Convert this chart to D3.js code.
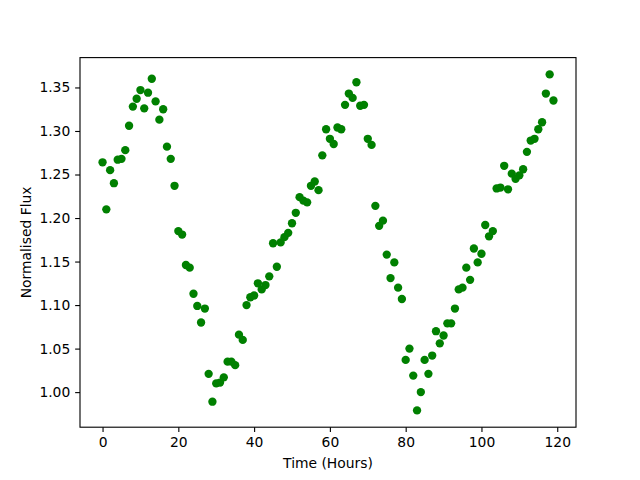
<!DOCTYPE html>
<html>
<head>
<meta charset="utf-8">
<script src="https://cdn.jsdelivr.net/npm/d3@7"></script>
<style>
  body { margin: 0; background: white; }
  text { font-family: "DejaVu Sans", sans-serif; }
</style>
</head>
<body>
<div id="container"></div>
<script>
// hourly samples, flux
const hours = d3.range(0, 120);
const flux = [
  1.264, 1.210, 1.255, 1.240, 1.267, 1.268, 1.278, 1.306, 1.328, 1.337,
  1.347, 1.326, 1.344, 1.360, 1.334, 1.313, 1.325, 1.282, 1.268, 1.237,
  1.185, 1.181, 1.146, 1.143, 1.113, 1.099, 1.080, 1.096, 1.021, 0.989,
  1.010, 1.011, 1.017, 1.035, 1.035, 1.031, 1.066, 1.060, 1.100, 1.109,
  1.111, 1.125, 1.118, 1.123, 1.133, 1.171, 1.144, 1.172, 1.178, 1.183,
  1.194, 1.206, 1.224, 1.220, 1.218, 1.237, 1.242, 1.232, 1.272, 1.302,
  1.291, 1.285, 1.304, 1.302, 1.330, 1.343, 1.338, 1.356, 1.329, 1.330,
  1.291, 1.284, 1.214, 1.191, 1.197, 1.158, 1.131, 1.149, 1.120, 1.107,
  1.037, 1.050, 1.019, 0.979, 1.000, 1.037, 1.021, 1.042, 1.070, 1.056,
  1.065, 1.079, 1.079, 1.096, 1.118, 1.120, 1.143, 1.129, 1.165, 1.149,
  1.159, 1.192, 1.179, 1.185, 1.234, 1.235, 1.260, 1.233, 1.251, 1.245,
  1.249, 1.256, 1.276, 1.289, 1.291, 1.302, 1.310, 1.343, 1.365, 1.335
];
const xTicks = [0, 20, 40, 60, 80, 100, 120];
const yTicks = [1.00, 1.05, 1.10, 1.15, 1.20, 1.25, 1.30, 1.35];

let w = 640;
let h = 480;
// matplotlib default subplot box
let axLeft = 80, axRight = 576, axTop = 57.6, axBottom = 427.2;
const pt = 100 / 72;

// 5% margins like matplotlib autoscale
function padded(ext) {
  let r = ext[1] - ext[0];
  return [ext[0] - 0.05 * r, ext[1] + 0.05 * r];
}

let xScale = d3.scaleLinear().domain(padded(d3.extent(hours))).range([axLeft, axRight]);
let yScale = d3.scaleLinear().domain(padded(d3.extent(flux))).range([axBottom, axTop]);

let viz = d3.select("#container").append("svg")
    .attr("width", w)
    .attr("height", h)
    .style("background-color", "white");

let fontSize = 10 * pt;

// points
viz.selectAll(".dot").data(hours).enter()
  .append("circle")
    .attr("class", "dot")
    .attr("cx", d => xScale(d))
    .attr("cy", (d, i) => yScale(flux[i]))
    .attr("r", 3 * pt)
    .attr("fill", "#008000");

// axes
let xAxis = d3.axisBottom(xScale)
    .tickValues(xTicks)
    .tickFormat(d3.format("d"))
    .tickSize(3.5 * pt)
    .tickPadding(3.5 * pt);
let yAxis = d3.axisLeft(yScale)
    .tickValues(yTicks)
    .tickFormat(d3.format(".2f"))
    .tickSize(3.5 * pt)
    .tickPadding(3.5 * pt);

let gx = viz.append("g").attr("transform", `translate(0,${axBottom})`).call(xAxis);
let gy = viz.append("g").attr("transform", `translate(${axLeft},0)`).call(yAxis);

[gx, gy].forEach(g => {
  g.select(".domain").remove();
  g.selectAll(".tick line").attr("stroke", "black").attr("stroke-width", 0.8 * pt);
  g.selectAll(".tick text")
    .attr("fill", "black")
    .style("font-size", fontSize + "px")
    .style("font-family", "'DejaVu Sans', sans-serif");
});
gx.selectAll(".tick text").attr("dy", "0.75em");

// frame
viz.append("rect")
  .attr("x", axLeft)
  .attr("y", axTop)
  .attr("width", axRight - axLeft)
  .attr("height", axBottom - axTop)
  .attr("fill", "none")
  .attr("stroke", "black")
  .attr("stroke-width", 0.8 * pt);

// labels
viz.append("text")
  .attr("x", (axLeft + axRight) / 2)
  .attr("y", 468)
  .attr("text-anchor", "middle")
  .style("font-size", fontSize + "px")
  .text("Time (Hours)");

viz.append("text")
  .attr("transform", `translate(31,${(axTop + axBottom) / 2}) rotate(-90)`)
  .attr("text-anchor", "middle")
  .style("font-size", fontSize + "px")
  .text("Normalised Flux");
</script>
</body>
</html>
